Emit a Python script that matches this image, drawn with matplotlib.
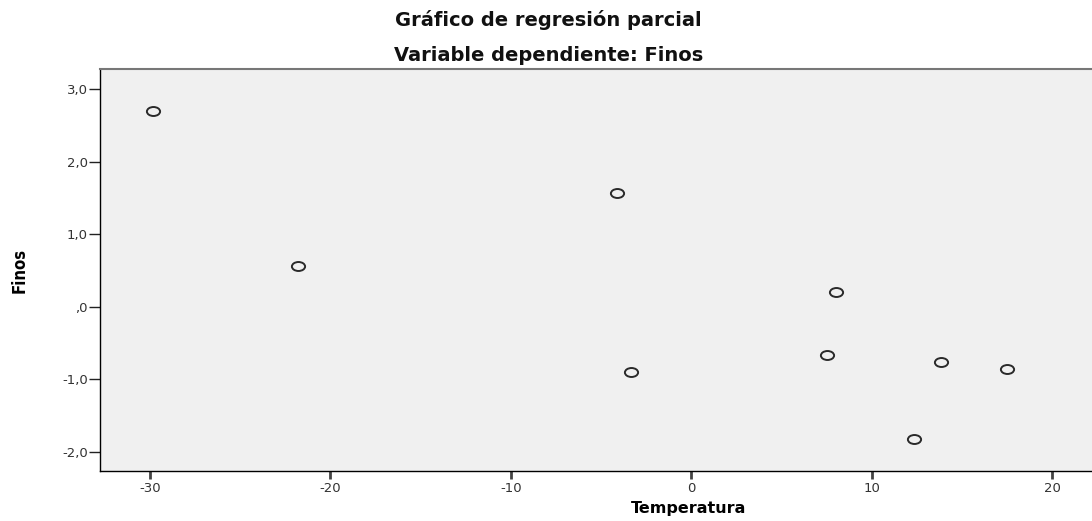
import numpy as np
import matplotlib
matplotlib.use('Agg')
import matplotlib.pyplot as plt
from matplotlib.path import Path
from matplotlib.transforms import Affine2D

# datos
temperatura = [-29.82, -21.82, -4.14, -3.33, 7.51, 8.01, 12.35, 13.85, 17.51]
finos = [2.696, 0.566, 1.565, -0.897, -0.662, 0.199, -1.829, -0.763, -0.864]

xticks = [-30, -20, -10, 0, 10, 20]
yticks = [3.0, 2.0, 1.0, 0.0, -1.0, -2.0]
yticklabels = ['3,0', '2,0', '1,0', ',0', '-1,0', '-2,0']

# marcador circulo un poco achatado
elipse = Path.unit_circle().transformed(Affine2D().scale(1.0, 0.68))

fig = plt.figure(figsize=(10.92, 5.21), dpi=100)
ax = fig.add_axes([0.092, 0.096, 0.908, 0.771])
ax.set_facecolor('#f0f0f0')

ax.plot(temperatura, finos, linestyle='none', marker=elipse, markersize=9.5,
        markerfacecolor='none', markeredgecolor='#2a2a2a', markeredgewidth=1.4)

ax.set_xlim(-32.74, 22.2)
ax.set_ylim(-2.266, 3.276)
ax.set_xticks(xticks)
ax.set_xticklabels([str(t) for t in xticks])
ax.set_yticks(yticks)
ax.set_yticklabels(yticklabels)

ax.spines['right'].set_visible(False)
ax.spines['top'].set_color('#777777')
ax.spines['top'].set_linewidth(1.5)
for s in ['left', 'bottom']:
    ax.spines[s].set_color('black')
    ax.spines[s].set_linewidth(1.0)

ax.tick_params(axis='y', length=8, width=1, color='#222222', labelsize=9.5,
               labelcolor='#333333', pad=1)
ax.tick_params(axis='x', length=6, width=2, color='#444444', labelsize=9.5,
               labelcolor='#333333', pad=2)

ax.set_xlabel('Temperatura', fontsize=11.5, fontweight='bold')
ax.xaxis.set_label_coords(0.5935, -0.075)
ax.set_ylabel('Finos', fontsize=12, fontweight='bold', fontstretch='condensed')
ax.yaxis.set_label_coords(-0.072, 0.5)

fig.text(0.502, 0.962, 'Gráfico de regresión parcial', ha='center', va='center',
         fontsize=14, fontweight='bold', color='#111111')
fig.text(0.502, 0.893, 'Variable dependiente: Finos', ha='center', va='center',
         fontsize=14, fontweight='bold', color='#111111')

fig.savefig('out.png', dpi=100)
